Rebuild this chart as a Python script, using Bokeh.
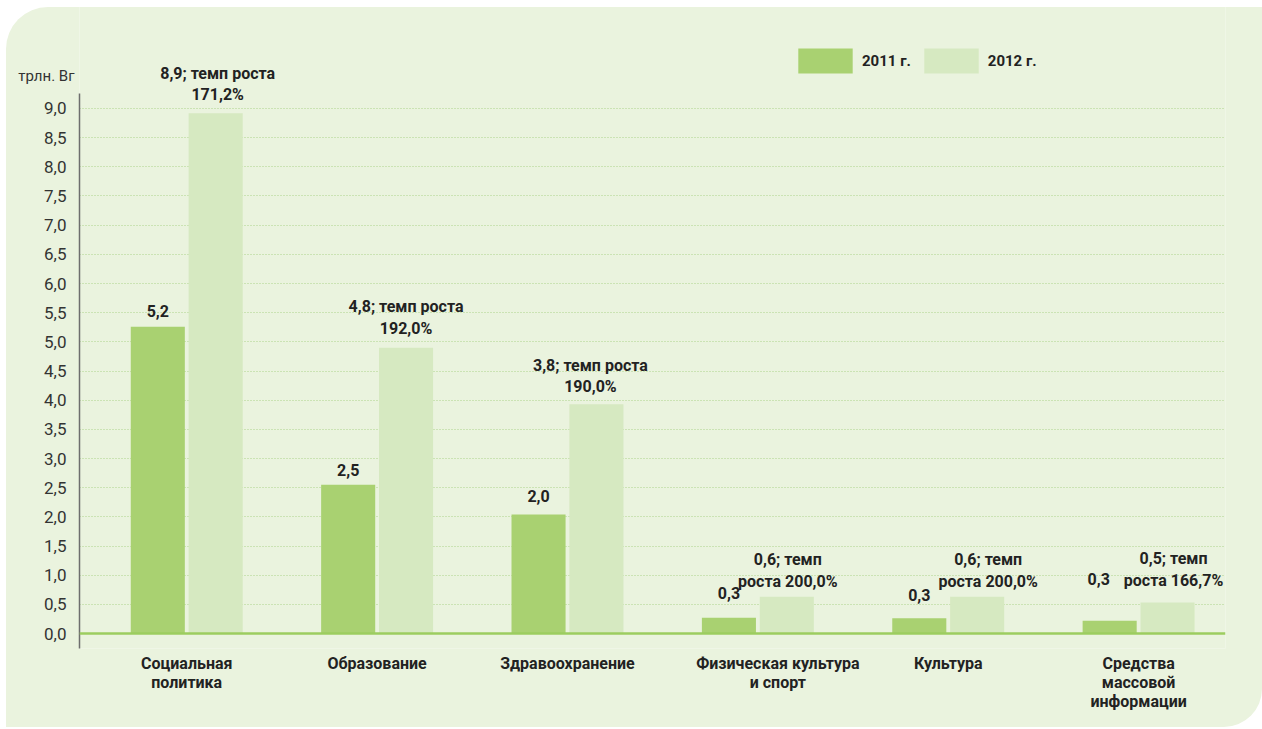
from bokeh.plotting import figure
from bokeh.models import (ColumnDataSource, Range1d, FixedTicker, CustomJSTickFormatter,
                          Span, Legend, LegendItem, LinearAxis)
from bokeh.core.properties import value
from bokeh.embed import file_html
from bokeh.resources import INLINE

# ---------------- data ----------------
categories = ["Социальная\nполитика", "Образование", "Здравоохранение",
              "Физическая культура\nи спорт", "Культура", "Средства\nмассовой\nинформации"]
series = ["2011 г.", "2012 г."]
values_2011 = [5.26, 2.55, 2.04, 0.27, 0.26, 0.22]
values_2012 = [8.92, 4.90, 3.93, 0.63, 0.63, 0.53]
labels_2011 = ["5,2", "2,5", "2,0", "0,3", "0,3", "0,3"]
labels_2012 = ["8,9; темп роста\n171,2%", "4,8; темп роста\n192,0%", "3,8; темп роста\n190,0%",
               "0,6; темп\nроста 200,0%", "0,6; темп\nроста 200,0%", "0,5; темп\nроста 166,7%"]
y_ticks = [0.0, 0.5, 1.0, 1.5, 2.0, 2.5, 3.0, 3.5, 4.0, 4.5,
           5.0, 5.5, 6.0, 6.5, 7.0, 7.5, 8.0, 8.5, 9.0]
unit_label = "трлн. Вг"

# ---------------- styling / layout ----------------
W, H = 1262, 729
FONT = "Roboto"
C2011 = "#a9d171"
C2012 = "#d6e9c1"
BG = "#eaf3de"
TXT = "#222222"

BAR_W = 0.284
OFF = 0.152
UNIT_POS = 9.55          # vertical place of the unit caption (axis units)
# pixel nudges for value labels (layout only)
dx_2011 = [0, 0, 0, 0, 0, -11]
dy_2011 = [6, 5, 9, 15, 13, 32]
dx_2012 = [2, 0, -6, 1, 11, 6]
dy_2012 = [5, 6, 4, 2, 2, 9]
cat_nudge = [0, 0, 0, 0.105, 0, 0]

n = len(categories)
xs = list(range(n))

p = figure(width=W, height=H, output_backend="svg", toolbar_location=None, title=None,
           x_range=Range1d(-0.5633, 5.4565), y_range=Range1d(-0.2571, 10.8514),
           min_border_left=79, min_border_right=37, min_border_top=0, min_border_bottom=81)
p.border_fill_color = BG
p.background_fill_color = BG
p.outline_line_color = None
p.styles = {"clip-path": "inset(7px 0px 2px 6px round 42px 0px 38px 0px)"}

src11 = ColumnDataSource(dict(x=[x - OFF for x in xs], top=values_2011, text=labels_2011,
                              dx=dx_2011, dy=[-(4 + d) for d in dy_2011]))
src12 = ColumnDataSource(dict(x=[x + OFF for x in xs], top=values_2012, text=labels_2012,
                              dx=dx_2012, dy=[-(4 + d) for d in dy_2012]))

r11 = p.vbar(x="x", top="top", bottom=0, width=BAR_W, source=src11,
             fill_color=C2011, line_color=None)
r12 = p.vbar(x="x", top="top", bottom=0, width=BAR_W, source=src12,
             fill_color=C2012, line_color=None)

for s in (src11, src12):
    p.text(x="x", y="top", text="text", source=s, x_offset="dx", y_offset="dy",
           text_align="center", text_baseline="bottom",
           text_font=value(FONT), text_font_style="bold", text_font_size="16px",
           text_line_height=1.12, text_color=TXT)

# baseline
p.add_layout(Span(location=0, dimension="width", line_color="#9ccd5f", line_width=2.5))

# grid
p.xgrid.visible = False
p.ygrid.ticker = FixedTicker(ticks=y_ticks[1:])
p.ygrid.grid_line_color = "#add38a"
p.ygrid.grid_line_dash = "1 2"
p.ygrid.grid_line_width = 1

# y axis
ya = p.yaxis[0]
ya.ticker = FixedTicker(ticks=y_ticks)
ya.formatter = CustomJSTickFormatter(code="return tick.toFixed(1).replace('.', ',');")
ya.bounds = (-0.2571, 9.257)
ya.axis_line_color = "#6e6e6e"
ya.axis_line_width = 1.5
ya.major_tick_line_color = None
ya.minor_tick_line_color = None
ya.major_tick_out = 0
ya.major_tick_in = 0
ya.minor_tick_out = 0
ya.major_label_standoff = 13
ya.major_label_text_font = FONT
ya.major_label_text_font_size = "17px"
ya.major_label_text_color = "#333333"

# unit caption as a second (line-less) axis
ua = LinearAxis(ticker=FixedTicker(ticks=[UNIT_POS]),
                major_label_overrides={UNIT_POS: unit_label},
                axis_line_color=None, major_tick_line_color=None, minor_tick_line_color=None,
                major_tick_out=0, major_tick_in=0, minor_tick_out=0,
                major_label_standoff=-33, major_label_text_font=FONT,
                major_label_text_font_size="15px", major_label_text_color="#333333")
p.add_layout(ua, "left")

# x axis (category labels)
xa = p.xaxis[0]
tick_pos = [x + d for x, d in zip(xs, cat_nudge)]
xa.ticker = FixedTicker(ticks=tick_pos)
xa.major_label_overrides = {t: c for t, c in zip(tick_pos, categories)}
xa.axis_line_color = None
xa.major_tick_line_color = None
xa.minor_tick_line_color = None
xa.major_tick_out = 0
xa.major_tick_in = 0
xa.minor_tick_out = 0
xa.major_label_standoff = 5
xa.major_label_text_font = FONT
xa.major_label_text_font_style = "bold"
xa.major_label_text_font_size = "16px"
xa.major_label_text_line_height = 1.0
xa.major_label_text_color = TXT

# legend
legend = Legend(items=[LegendItem(label=series[0], renderers=[r11]),
                       LegendItem(label=series[1], renderers=[r12])],
                orientation="horizontal", location=(712, 572),
                glyph_width=68, glyph_height=31, label_height=31,
                label_standoff=3, spacing=6, padding=0, margin=0,
                border_line_color=None, background_fill_alpha=0,
                label_text_font=FONT, label_text_font_style="bold",
                label_text_font_size="15px", label_text_color=TXT)
p.add_layout(legend)

open("out.html", "w").write(file_html(p, INLINE))
